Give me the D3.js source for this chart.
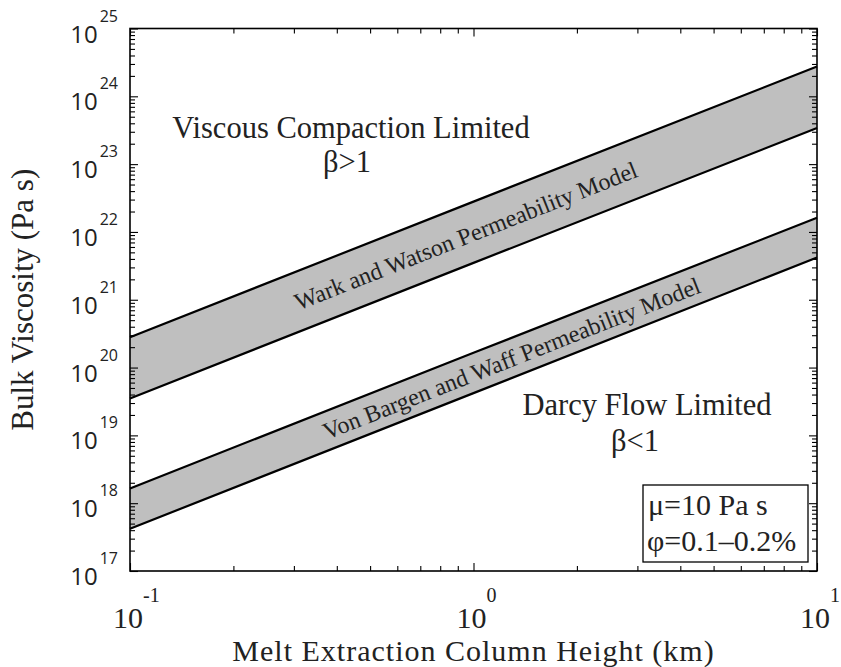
<!DOCTYPE html>
<html>
<head>
<meta charset="utf-8">
<script src="https://cdn.jsdelivr.net/npm/d3@7"></script>
<style>
  body { margin: 0; background: #fff; }
  text { fill: #222; }
</style>
</head>
<body>
<svg id="chart" width="841" height="667"></svg>
<script>
// Melt extraction column height (km) at which each boundary is evaluated
const heightKm = [0.1, 1, 10];

// Wark & Watson permeability model: bulk viscosity bounds (Pa s)
const warkWatsonUpper = [2.8e20, 2.8e22, 2.75e24];
const warkWatsonLower = [3.5e19, 3.5e21, 3.4e23];

// Von Bargen & Waff permeability model: bulk viscosity bounds (Pa s)
const vonBargenUpper = [1.65e18, 1.65e20, 1.62e22];
const vonBargenLower = [4.2e17, 4.2e19, 4.2e21];

// Decade tick exponents
const xTickExponents = [-1, 0, 1];
const yTickExponents = [17, 18, 19, 20, 21, 22, 23, 24, 25];

// Model labels, placed at a column height inside each band
const bandLabels = ["Wark and Watson Permeability Model", "Von Bargen and Waff Permeability Model"];
const bandLabelHeight = [0.95, 1.29];

const margin = { left: 130, right: 24, top: 28.5, bottom: 96 };
const W = 841, H = 667;
const iw = W - margin.left - margin.right;
const ih = H - margin.top - margin.bottom;

const svg = d3.select("#chart");
const g = svg.append("g").attr("transform", `translate(${margin.left},${margin.top})`);

const x = d3.scaleLog().domain([0.1, 10]).range([0, iw]);
const y = d3.scaleLog().domain([1e17, 1e25]).range([ih, 0]);

const serif = "'Liberation Serif', 'Times New Roman', serif";
const sans = "'Open Sans', 'Liberation Sans', sans-serif";

// Bands
const bands = [
  { upper: warkWatsonUpper, lower: warkWatsonLower },
  { upper: vonBargenUpper, lower: vonBargenLower }
];

const area = d3.area()
  .x(d => x(d.h))
  .y0(d => y(d.lo))
  .y1(d => y(d.hi));
const line = d3.line().x(d => x(d[0])).y(d => y(d[1]));

bands.forEach(b => {
  const pts = heightKm.map((h, i) => ({ h, lo: b.lower[i], hi: b.upper[i] }));
  g.append("path").attr("d", area(pts)).attr("fill", "#bfbfbf");
  [b.upper, b.lower].forEach(vals => {
    g.append("path")
      .attr("d", line(heightKm.map((h, i) => [h, vals[i]])))
      .attr("fill", "none").attr("stroke", "#000").attr("stroke-width", 2.2);
  });
});

// Band labels follow the slope of their band
bands.forEach((b, i) => {
  const h = bandLabelHeight[i];
  const interp = vals => {
    const t = (Math.log10(h) - Math.log10(heightKm[0])) / (Math.log10(heightKm[2]) - Math.log10(heightKm[0]));
    return Math.pow(10, Math.log10(vals[0]) + t * (Math.log10(vals[2]) - Math.log10(vals[0])));
  };
  const mid = Math.sqrt(interp(b.upper) * interp(b.lower));
  const ang = Math.atan2(y(b.upper[2]) - y(b.upper[0]), x(heightKm[2]) - x(heightKm[0])) * 180 / Math.PI;
  g.append("text")
    .attr("transform", `translate(${x(h)},${y(mid)}) rotate(${ang})`)
    .attr("text-anchor", "middle")
    .attr("dy", "0.35em")
    .style("font-family", serif).style("font-size", "24px")
    .text(bandLabels[i]);
});

// Ticks (inside, on all four sides)
const decadeX = xTickExponents.map(e => Math.pow(10, e));
const decadeY = yTickExponents.map(e => Math.pow(10, e));
const minors = decs => {
  const out = [];
  decs.slice(0, -1).forEach(d => { for (let k = 2; k <= 9; k++) out.push(d * k); });
  return out;
};
const minorX = minors(decadeX), minorY = minors(decadeY);

function tickAxis(axisFn, scale, values, size, transform) {
  const a = axisFn(scale).tickValues(values).tickSizeInner(size).tickSizeOuter(0).tickFormat("");
  const sel = g.append("g").attr("transform", transform).call(a);
  sel.select(".domain").remove();
  sel.selectAll("line").attr("stroke", "#000").attr("stroke-width", 1.1);
}
[[decadeX, 8], [minorX, 5]].forEach(([v, s]) => {
  tickAxis(d3.axisBottom, x, v, -s, `translate(0,${ih})`);
  tickAxis(d3.axisTop, x, v, -s, "translate(0,0)");
});
[[decadeY, 8], [minorY, 5]].forEach(([v, s]) => {
  tickAxis(d3.axisLeft, y, v, -s, "translate(0,0)");
  tickAxis(d3.axisRight, y, v, -s, `translate(${iw},0)`);
});

// Frame
g.append("rect").attr("width", iw).attr("height", ih)
  .attr("fill", "none").attr("stroke", "#000").attr("stroke-width", 1.6);

// Y tick labels: 10 with superscript exponent
yTickExponents.forEach(e => {
  const t = g.append("text")
    .attr("x", -12).attr("y", y(Math.pow(10, e)) + 14)
    .attr("text-anchor", "end")
    .style("font-family", sans);
  t.append("tspan").style("font-size", "24px").text("10");
  t.append("tspan").attr("dy", -21).attr("dx", 2).style("font-size", "16px").text(e);
});

// X tick labels: base centred on the tick, exponent trailing
xTickExponents.forEach(e => {
  const px = x(Math.pow(10, e)) - 2;
  g.append("text")
    .attr("x", px).attr("y", ih + 56.5)
    .attr("text-anchor", "middle")
    .style("font-family", serif).style("font-size", "30px")
    .text("10");
  g.append("text")
    .attr("x", px + 15).attr("y", ih + 31)
    .style("font-family", serif).style("font-size", "20px")
    .text(e);
});

// Axis titles
g.append("text")
  .attr("x", iw / 2).attr("y", ih + 90)
  .attr("text-anchor", "middle")
  .style("font-family", serif).style("font-size", "30px").style("letter-spacing", "1px")
  .text("Melt Extraction Column Height (km)");

svg.append("text")
  .attr("transform", `translate(33,${margin.top + ih / 2}) rotate(-90)`)
  .attr("text-anchor", "middle")
  .style("font-family", serif).style("font-size", "31px")
  .text("Bulk Viscosity (Pa s)");

// Regime annotations
const regime = [
  { text: "Viscous Compaction Limited", cx: 351, by: 138 },
  { text: "\u03b2>1", cx: 347, by: 172 },
  { text: "Darcy Flow Limited", cx: 647, by: 415 },
  { text: "\u03b2<1", cx: 635, by: 451 }
];
regime.forEach(r => {
  svg.append("text")
    .attr("x", r.cx).attr("y", r.by)
    .attr("text-anchor", "middle")
    .style("font-family", serif).style("font-size", "30.5px")
    .text(r.text);
});

// Parameter box
const box = svg.append("g").attr("transform", "translate(643,485)");
box.append("rect").attr("width", 165).attr("height", 77)
  .attr("fill", "#fff").attr("stroke", "#000").attr("stroke-width", 1.3);
box.append("text").attr("x", 5).attr("y", 30)
  .style("font-family", serif).style("font-size", "30px")
  .text("\u03bc=10 Pa s");
box.append("text").attr("x", 4).attr("y", 66)
  .style("font-family", serif).style("font-size", "30px")
  .text("\u03c6=0.1\u20130.2%");
</script>
</body>
</html>
